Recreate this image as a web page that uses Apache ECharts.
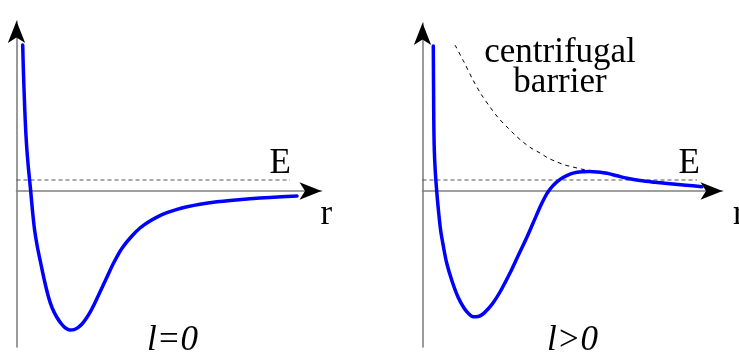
<!DOCTYPE html>
<html>
<head>
<meta charset="utf-8">
<script src="https://cdn.jsdelivr.net/npm/echarts@6/dist/echarts.min.js"></script>
<style>
  html, body { margin: 0; padding: 0; background: #fff; }
  #chart { width: 739px; height: 352px; }
</style>
</head>
<body>
<div id="chart"></div>
<script>
// Effective radial potential, l = 0: [r, V]
const potentialL0 = [
  [0.62, 14.6], [0.69, 12.0], [0.78, 9.4], [0.88, 6.9], [1.02, 4.4], [1.20, 2.2],
  [1.42, 0], [1.60, -2.0], [1.81, -3.9], [2.09, -5.6], [2.42, -7.2], [2.78, -8.9],
  [3.20, -10.6], [3.57, -11.7], [4.02, -12.6], [4.50, -13.3], [4.90, -13.7],
  [5.35, -13.9], [5.75, -13.86], [6.15, -13.66], [6.55, -13.3], [6.95, -12.78],
  [7.35, -12.14], [7.75, -11.38], [8.35, -10.1], [9.05, -8.6], [9.75, -7.13],
  [10.55, -5.73], [11.45, -4.6], [12.35, -3.7], [13.35, -3.0], [14.15, -2.56],
  [15.05, -2.17], [16.05, -1.84], [17.05, -1.58], [18.35, -1.32], [20.05, -1.08],
  [21.65, -0.92], [23.35, -0.78], [25.35, -0.64], [28.05, -0.5]
];

// Effective radial potential, l > 0: [r, V]
const potentialL1 = [
  [1.08, 14.5], [1.10, 11.1], [1.12, 8.1], [1.14, 6.1], [1.18, 4.1], [1.27, 2.1],
  [1.42, 0], [1.59, -1.9], [1.81, -3.9], [2.10, -5.6], [2.42, -7.2], [2.95, -9.0],
  [3.55, -10.6], [4.15, -11.7], [4.65, -12.3], [5.08, -12.57], [5.55, -12.55],
  [6.05, -12.3], [6.55, -11.8], [7.05, -11.2], [7.75, -10.1], [8.75, -8.2],
  [9.55, -6.5], [10.45, -4.6], [11.25, -2.76], [11.85, -1.4], [12.25, -0.6],
  [12.65, 0.04], [13.05, 0.54], [13.45, 0.92], [14.05, 1.34], [14.75, 1.69],
  [15.45, 1.87], [16.05, 1.93], [16.75, 1.95], [17.45, 1.9], [18.45, 1.77],
  [19.45, 1.52], [20.45, 1.27], [21.75, 1.04], [23.25, 0.87], [24.75, 0.73],
  [26.35, 0.58], [27.95, 0.43]
];

// Centrifugal term l(l+1)/2mr^2: [r, V]
const barrier = [
  [3.25, 14.6], [4.15, 12.9], [5.05, 11.1], [5.85, 9.7], [6.75, 8.4], [7.55, 7.35],
  [8.45, 6.4], [9.25, 5.6], [10.05, 4.9], [10.85, 4.3], [11.75, 3.8], [12.55, 3.3],
  [13.45, 2.9], [14.25, 2.6], [15.05, 2.4], [15.85, 2.2], [16.75, 2.05],
  [17.75, 1.92], [18.75, 1.75], [19.75, 1.5], [20.75, 1.25], [22.25, 1.05],
  [24.25, 0.87]
];

// Energy level E and where its dashed line stops in each panel
const energyLevel = 1.1;
const energyEnd = [27.35, 27.45];

// Axis extents per panel
const rMax = [30.5, 30];
const vMin = [-15.6, -15.6];
const vMax = [17.0, 16.8];

const SERIF = '"Liberation Serif", "DejaVu Serif", serif';
const FONT_SIZE = 35;

function baseAxis(gridIndex, min, max) {
  return {
    type: 'value', gridIndex, min, max,
    axisLabel: { show: false }, axisTick: { show: false }, splitLine: { show: false }
  };
}
function lineAxis(gridIndex, min, max) {
  const a = baseAxis(gridIndex, min, max);
  a.axisLine = { show: true, onZero: true, onZeroAxisIndex: gridIndex * 2,
    lineStyle: { color: '#808080', width: 1.6 } };
  return a;
}
function arrowAxis(gridIndex, min, max) {
  const a = baseAxis(gridIndex, min, max);
  a.axisLine = { show: true, onZero: true, onZeroAxisIndex: gridIndex * 2,
    symbol: ['none', 'arrow'], symbolSize: [13, 22],
    lineStyle: { color: '#000', width: 0 } };
  return a;
}

const xAxes = [], yAxes = [];
[0, 1].forEach(g => {
  xAxes.push(lineAxis(g, 0, rMax[g]), arrowAxis(g, 0, rMax[g]));
  const y0 = lineAxis(g, vMin[g], vMax[g]);
  const y1 = arrowAxis(g, vMin[g], vMax[g]);
  y0.position = 'left'; y1.position = 'left';
  yAxes.push(y0, y1);
});

function energySeries(g) {
  return {
    type: 'line', xAxisIndex: g * 2, yAxisIndex: g * 2, symbol: 'none', silent: true, z: 2,
    data: [[0, energyLevel], [energyEnd[g], energyLevel]],
    lineStyle: { color: '#555', width: 1.2, type: [4, 3] }
  };
}
function potentialSeries(g, data) {
  return {
    type: 'line', xAxisIndex: g * 2, yAxisIndex: g * 2, symbol: 'none', silent: true, z: 4,
    smooth: 0.3, data,
    lineStyle: { color: '#0000ff', width: 3.5, cap: 'round', join: 'round' }
  };
}

function label(text, x, y, opts) {
  return {
    type: 'text', silent: true,
    style: Object.assign({ text, x, y, fill: '#000', verticalAlign: 'middle',
      font: FONT_SIZE + 'px ' + SERIF }, opts || {})
  };
}

const chart = echarts.init(document.getElementById('chart'), null, { renderer: 'canvas' });
chart.setOption({
  animation: false,
  backgroundColor: '#fff',
  grid: [
    { left: 16.5, top: 21, width: 305, height: 326 },
    { left: 422.5, top: 23, width: 300, height: 324 }
  ],
  xAxis: xAxes,
  yAxis: yAxes,
  series: [
    energySeries(0),
    potentialSeries(0, potentialL0),
    energySeries(1),
    {
      type: 'line', xAxisIndex: 2, yAxisIndex: 2, symbol: 'none', silent: true, z: 3,
      smooth: 0.3, data: barrier,
      lineStyle: { color: '#000', width: 1, type: [4, 4] }
    },
    potentialSeries(1, potentialL1)
  ],
  graphic: [
    label('E', 269.5, 164),
    label('r', 320.5, 215),
    label('l=0', 172.5, 341, { align: 'center', font: 'italic ' + FONT_SIZE + 'px ' + SERIF }),
    label('E', 678.5, 164),
    label('r', 733, 215),
    label('centrifugal', 560, 53, { align: 'center' }),
    label('barrier', 560, 83, { align: 'center' }),
    label('l>0', 572.5, 341, { align: 'center', font: 'italic ' + FONT_SIZE + 'px ' + SERIF })
  ]
});
</script>
</body>
</html>
